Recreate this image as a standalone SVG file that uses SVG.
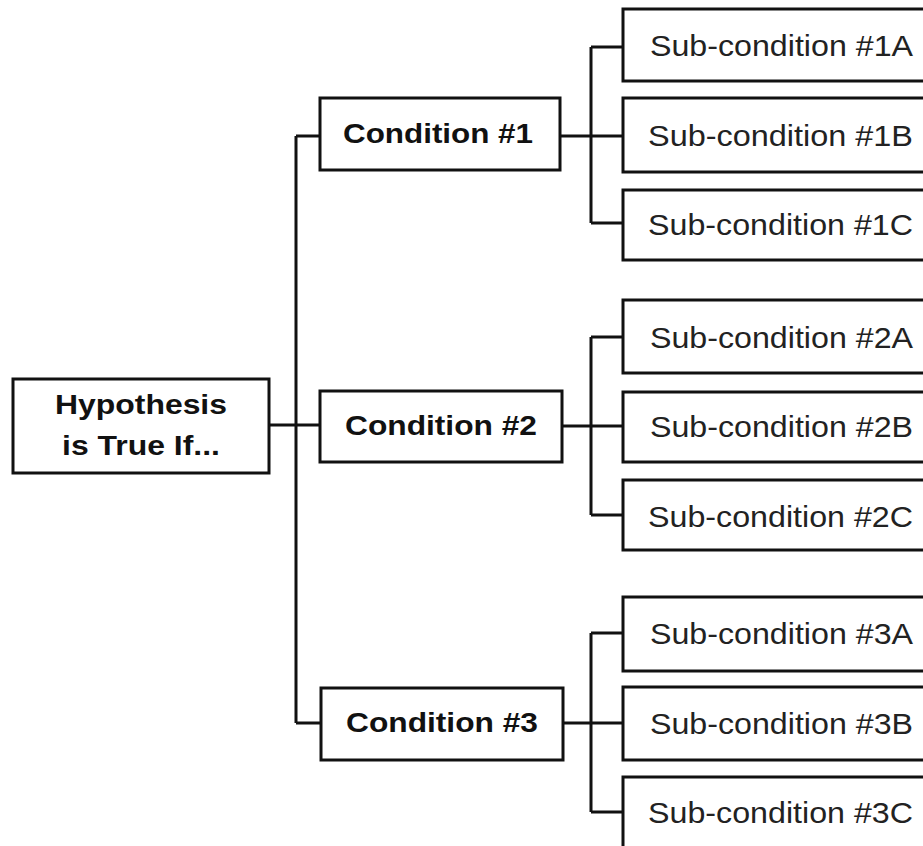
<svg xmlns="http://www.w3.org/2000/svg" width="923" height="846" viewBox="0 0 923 846">
<style>
.box{fill:#fff;stroke:#111;stroke-width:3}
.ln{fill:none;stroke:#111;stroke-width:3}
.b{font-family:"Liberation Sans",Arial,sans-serif;font-weight:bold;font-size:28px;fill:#111;text-anchor:middle}
.s{font-family:"Liberation Sans",Arial,sans-serif;font-size:30px;fill:#222}
</style>
<rect width="923" height="846" fill="#fff"/>
<g id="connectors">
<path class="ln" d="M269 425 H320 M296 136 V723 M296 136 H320 M296 723 H321"/>
<path class="ln" d="M560 136 H623 M591 47 V223 M591 47 H623 M591 223 H623"/>
<path class="ln" d="M562 426 H623 M591 337 V515 M591 337 H623 M591 515 H623"/>
<path class="ln" d="M563 723 H623 M591 633 V812 M591 633 H623 M591 812 H623"/>
</g>
<g id="hypothesis">
<rect class="box" x="13" y="379" width="256" height="94"/>
<text class="b" x="141" y="414" textLength="172" lengthAdjust="spacingAndGlyphs">Hypothesis</text>
<text class="b" x="141" y="455" textLength="158" lengthAdjust="spacingAndGlyphs">is True If...</text>
</g>
<g id="cond1">
<rect class="box" x="320" y="98" width="240" height="72"/>
<text class="b" x="438" y="143" textLength="190" lengthAdjust="spacingAndGlyphs">Condition #1</text>
</g>
<g id="cond2">
<rect class="box" x="320" y="391" width="242" height="71"/>
<text class="b" x="441" y="435" textLength="192" lengthAdjust="spacingAndGlyphs">Condition #2</text>
</g>
<g id="cond3">
<rect class="box" x="321" y="688" width="242" height="72"/>
<text class="b" x="442" y="732" textLength="192" lengthAdjust="spacingAndGlyphs">Condition #3</text>
</g>
<g id="sub1a"><rect class="box" x="623" y="9" width="320" height="72"/><text class="s" x="650" y="56" textLength="263" lengthAdjust="spacingAndGlyphs">Sub-condition #1A</text></g>
<g id="sub1b"><rect class="box" x="623" y="98" width="320" height="74"/><text class="s" x="648" y="146" textLength="265" lengthAdjust="spacingAndGlyphs">Sub-condition #1B</text></g>
<g id="sub1c"><rect class="box" x="623" y="190" width="320" height="70"/><text class="s" x="648" y="235" textLength="265" lengthAdjust="spacingAndGlyphs">Sub-condition #1C</text></g>
<g id="sub2a"><rect class="box" x="623" y="300" width="320" height="73"/><text class="s" x="650" y="348" textLength="263" lengthAdjust="spacingAndGlyphs">Sub-condition #2A</text></g>
<g id="sub2b"><rect class="box" x="623" y="392" width="320" height="70"/><text class="s" x="650" y="437" textLength="263" lengthAdjust="spacingAndGlyphs">Sub-condition #2B</text></g>
<g id="sub2c"><rect class="box" x="623" y="480" width="320" height="70"/><text class="s" x="648" y="527" textLength="265" lengthAdjust="spacingAndGlyphs">Sub-condition #2C</text></g>
<g id="sub3a"><rect class="box" x="623" y="597" width="320" height="74"/><text class="s" x="650" y="644" textLength="263" lengthAdjust="spacingAndGlyphs">Sub-condition #3A</text></g>
<g id="sub3b"><rect class="box" x="623" y="687" width="320" height="73"/><text class="s" x="650" y="734" textLength="263" lengthAdjust="spacingAndGlyphs">Sub-condition #3B</text></g>
<g id="sub3c"><rect class="box" x="623" y="777" width="320" height="90"/><text class="s" x="648" y="823" textLength="265" lengthAdjust="spacingAndGlyphs">Sub-condition #3C</text></g>
</svg>
